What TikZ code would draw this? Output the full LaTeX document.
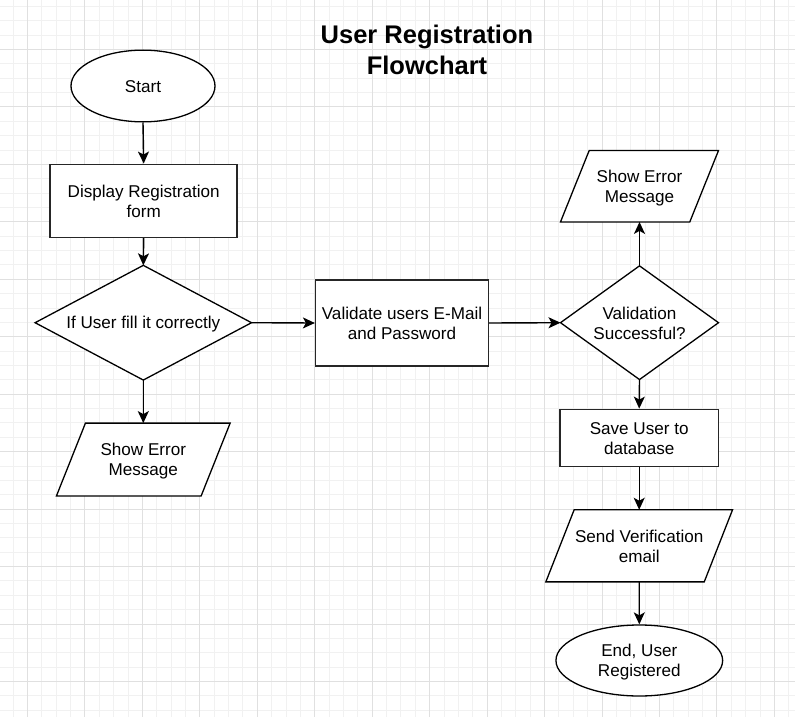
\documentclass[tikz,border=0pt]{standalone}
\usepackage{fontspec}
\setmainfont{Liberation Sans}
\usetikzlibrary{arrows.meta,shapes.geometric}
\pgfdeclarelayer{gridlayer}
\pgfdeclarelayer{shapelayer}
\pgfsetlayers{gridlayer,shapelayer,main}
\newcommand{\mystrut}{\rule[-3pt]{0pt}{19pt}}
\definecolor{gridminor}{HTML}{F1F1F1}
\definecolor{gridmajor}{HTML}{E0E0E0}
\tikzset{
  base/.style={font=\fontsize{17.1}{20}\selectfont, align=center, inner sep=0pt, text=black},
  proc/.style={base, rectangle, draw=black!85, line width=1.5pt, fill=white},
  term/.style={base, ellipse, draw=black, line width=1.3pt, fill=white},
  holder/.style={base, rectangle},
  outline/.style={draw=black, line width=1.3pt, fill=white, line join=miter},
  arr/.style={-{Stealth[length=12pt,width=11pt,inset=3pt]}, line width=1.4pt, draw=black},
  title/.style={font=\fontsize{25.5}{31}\selectfont\bfseries, align=center, inner sep=0pt, text=black},
}
\begin{document}
\begin{tikzpicture}[x=1pt,y=-1pt]
\useasboundingbox (0,0) rectangle (795,717);
\begin{pgfonlayer}{gridlayer}
  \fill[white] (0,0) rectangle (795,717);
  \begin{scope}
    \clip (0,0) rectangle (795,717);
    \foreach \k in {-1,...,53} \draw[gridminor, line width=1pt] ({27.5+14.363*\k},0) -- ++(0,717);
    \foreach \k in {-3,...,46} \draw[gridminor, line width=1pt] (0,{49.5+14.363*\k}) -- ++(795,0);
    \foreach \k in {0,...,13} \draw[gridmajor, line width=1pt] ({27.5+57.45*\k},0) -- ++(0,717);
    \foreach \k in {0,...,11} \draw[gridmajor, line width=1pt] (0,{49.5+57.45*\k}) -- ++(795,0);
  \end{scope}
\end{pgfonlayer}

% title
\node[title] (title) at (427,50) {User Registration\\Flowchart};

% left column
\node[term, minimum width=144, minimum height=71.7] (start) at (143,86) {\mystrut Start};
\node[proc, minimum width=187, minimum height=73] (disp) at (143.7,200.8) {\mystrut Display Registration\\\mystrut form};
\node[holder, minimum width=216, minimum height=114.3] (d1) at (143.3,322.7) {\mystrut If User fill it correctly};
\node[holder, minimum width=144.3, minimum height=72.4] (e1) at (143.3,459.5) {\mystrut Show Error\\\mystrut Message};

% middle
\node[proc, minimum width=172.7, minimum height=86] (val) at (402,323) {\mystrut Validate users E-Mail\\\mystrut and Password};

% right column
\node[holder, minimum width=128.9, minimum height=71] (e2) at (639.5,186.2) {\mystrut Show Error\\\mystrut Message};
\node[holder, minimum width=157.6, minimum height=113.3] (d2) at (639.5,322.7) {\mystrut Validation\\\mystrut Successful?};
\node[proc, minimum width=158.3, minimum height=57.3] (save) at (639.2,438) {\mystrut Save User to\\\mystrut database};
\node[holder, minimum width=158, minimum height=71.7] (send) at (639.2,545.8) {\mystrut Send Verification\\\mystrut email};
\node[term, minimum width=166.7, minimum height=71] (endn) at (639.3,660.5) {\mystrut End, User\\\mystrut Registered};

% outlines of diamonds and parallelograms
\begin{pgfonlayer}{shapelayer}
  \filldraw[outline] (d1.north) -- (d1.east) -- (d1.south) -- (d1.west) -- cycle;
  \filldraw[outline] (d2.north) -- (d2.east) -- (d2.south) -- (d2.west) -- cycle;
  \filldraw[outline] ([xshift=14.5]e1.north west) -- ([xshift=14.5]e1.north east) -- ([xshift=-14.5]e1.south east) -- ([xshift=-14.5]e1.south west) -- cycle;
  \filldraw[outline] ([xshift=14.35]e2.north west) -- ([xshift=14.35]e2.north east) -- ([xshift=-14.35]e2.south east) -- ([xshift=-14.35]e2.south west) -- cycle;
  \filldraw[outline] ([xshift=14.15]send.north west) -- ([xshift=14.15]send.north east) -- ([xshift=-14.15]send.south east) -- ([xshift=-14.15]send.south west) -- cycle;
\end{pgfonlayer}

% connectors
\draw[arr] (start.south) -- (disp.north);
\draw[arr] (disp.south) -- (d1.north);
\draw[arr] (d1.south) -- (e1.north);
\draw[arr] (d1.east) -- (val.west);
\draw[arr] (val.east) -- (d2.west);
\draw[arr] (d2.north) -- (e2.south);
\draw[arr] (d2.south) -- (save.north);
\draw[arr] (save.south) -- (send.north);
\draw[arr] (send.south) -- (endn.north);
\end{tikzpicture}
\end{document}
